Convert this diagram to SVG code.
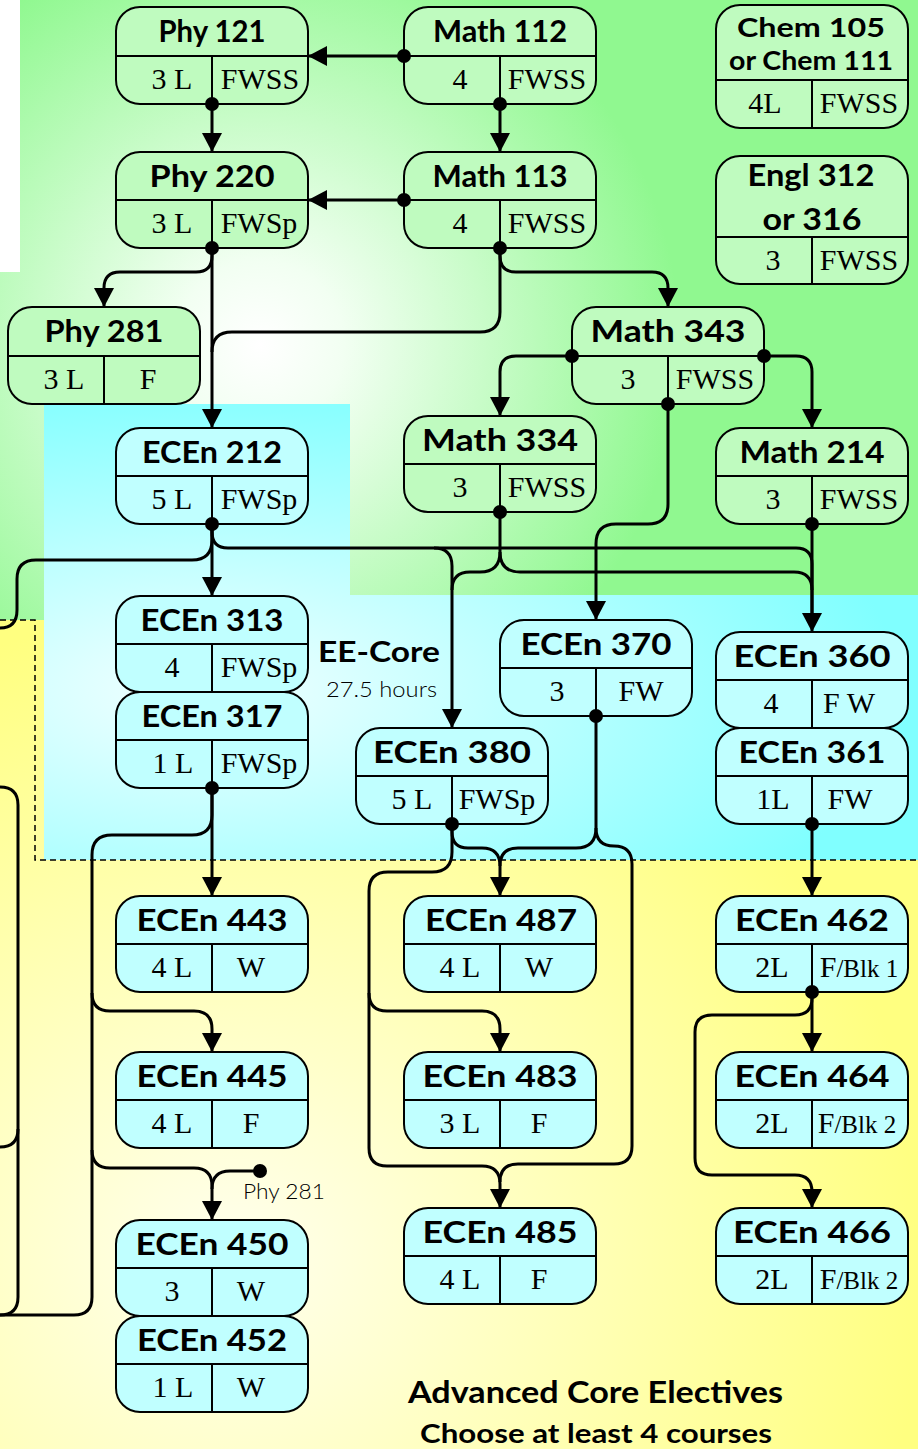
<svg xmlns="http://www.w3.org/2000/svg" width="918" height="1449" viewBox="0 0 918 1449">
<defs>
<radialGradient id="gGreen" gradientUnits="userSpaceOnUse" cx="260" cy="345" r="420">
<stop offset="0" stop-color="#ffffff"/><stop offset="0.2" stop-color="#f2fff2"/><stop offset="1" stop-color="#90f890"/>
</radialGradient>
<radialGradient id="gCyan" gradientUnits="userSpaceOnUse" cx="200" cy="690" r="700" gradientTransform="translate(200,690) scale(1,0.45) translate(-200,-690)">
<stop offset="0" stop-color="#f2ffff"/><stop offset="1" stop-color="#80ffff"/>
</radialGradient>
<radialGradient id="gYellow" gradientUnits="userSpaceOnUse" cx="230" cy="1260" r="700" gradientTransform="translate(230,1260) scale(1,0.93) translate(-230,-1260)">
<stop offset="0" stop-color="#ffffee"/><stop offset="1" stop-color="#ffff80"/>
</radialGradient>
<marker id="ah" markerUnits="userSpaceOnUse" markerWidth="20" markerHeight="20" viewBox="0 0 20 20" refX="19" refY="10" orient="auto">
<path d="M0,0 L19,10 L0,20 z" fill="#000"/>
</marker>
<style>
.node rect{stroke:#000;stroke-width:2}
.g rect{fill:#bffbbf}
.c rect{fill:#c0ffff}
.node path{fill:none;stroke:#000;stroke-width:2}
.title{font-family:Lato,"Open Sans","DejaVu Sans",sans-serif;font-weight:700;font-size:30px;text-anchor:middle;fill:#000}
.t2{font-size:27px}
.body{font-family:"Liberation Serif","Times New Roman",serif;font-size:30px;text-anchor:middle;fill:#000}
.conn path{fill:none;stroke:#000;stroke-width:3}
.arr{marker-end:url(#ah)}
.dot{fill:#000}
.lbl{font-family:Lato,"Open Sans",sans-serif;fill:#000}
</style>
</defs>

<g id="background">
<rect x="0" y="0" width="918" height="620" fill="url(#gGreen)"/>
<rect x="0" y="0" width="20" height="272" fill="#ffffff"/>
<polygon points="44,404 350,404 350,595 918,595 918,860 44,860" fill="url(#gCyan)"/>
<polygon points="0,620 44,620 44,860 918,860 918,1449 0,1449" fill="url(#gYellow)"/>
<path d="M0,620 H35 V860 H918" fill="none" stroke="#000" stroke-width="1.5" stroke-dasharray="6 4"/>
</g>

<g id="connectors" class="conn">
<path class="arr" d="M404,56 H308"/>
<path class="arr" d="M212,104 V152"/>
<path class="arr" d="M500,104 V152"/>
<path class="arr" d="M404,200 H308"/>
<path class="arr" d="M212,248 V256 Q212,272 196,272 H120 Q104,272 104,288 V307"/>
<path class="arr" d="M212,248 V428"/>
<path d="M500,248 V312 Q500,332 480,332 H232 Q212,332 212,352"/>
<path class="arr" d="M500,248 V256 Q500,272 516,272 H652 Q668,272 668,288 V307"/>
<path class="arr" d="M572,356 H516 Q500,356 500,372 V416"/>
<path class="arr" d="M764,356 H796 Q812,356 812,372 V428"/>
<path class="arr" d="M668,404 V504 Q668,524 648,524 H616 Q596,524 596,544 V620"/>
<path class="arr" d="M212,524 V596"/>
<path d="M212,524 V540 Q212,560 192,560 H36 Q17,560 17,579 V610 Q17,628 0,628"/>
<path class="arr" d="M212,524 V532 Q212,548 228,548 H796 Q812,548 812,564 V632"/>
<path class="arr" d="M434,548 Q452,548 452,566 V728"/>
<path d="M500,512 V552 Q500,572 480,572 H470 Q452,572 452,590"/>
<path d="M500,552 Q500,572 520,572 H794 Q812,572 812,590"/>
<path d="M812,524 V620"/>
<path class="arr" d="M212,788 V896"/>
<path d="M212,788 V815 Q212,835 192,835 H112 Q92,835 92,855 V1297 Q92,1315 74,1315 H0"/>
<path class="arr" d="M92,993 Q92,1011 110,1011 H194 Q212,1011 212,1029 V1052"/>
<path class="arr" d="M92,1150 Q92,1168 110,1168 H194 Q212,1168 212,1186 V1220"/>
<path d="M260,1171 H230 Q212,1171 212,1189"/>
<path d="M0,787 Q18,787 18,805 V1297 Q18,1315 0,1315"/>
<path d="M18,1129 Q18,1147 0,1147"/>
<path class="arr" d="M452,824 V832 Q452,848 468,848 H482 Q500,848 500,866 V896"/>
<path class="arr" d="M452,824 V852 Q452,872 432,872 H388 Q369,872 369,891 V1148 Q369,1166 387,1166 H482 Q500,1166 500,1184 V1208"/>
<path class="arr" d="M369,993 Q369,1011 387,1011 H482 Q500,1011 500,1029 V1052"/>
<path d="M596,716 V828 Q596,848 576,848 H518 Q500,848 500,866"/>
<path d="M596,828 Q596,846 614,846 Q632,846 632,864 V1146 Q632,1164 614,1164 H518 Q500,1164 500,1182"/>
<path class="arr" d="M812,824 V896"/>
<path class="arr" d="M812,992 V1052"/>
<path class="arr" d="M812,992 V998 Q812,1015 795,1015 H712 Q695,1015 695,1032 V1158 Q695,1175 712,1175 H795 Q812,1175 812,1192 V1208"/>
</g>

<g id="phy121" class="node g">
<rect x="116" y="7" width="192" height="97" rx="24"/>
<path d="M116,56 H308 M212,56 V104"/>
<text class="title" x="212" y="42" textLength="107" lengthAdjust="spacingAndGlyphs">Phy 121</text>
<text class="body" x="172" y="89">3 L</text><text class="body" x="260" y="89">FWSS</text>
</g>
<g id="phy220" class="node g">
<rect x="116" y="152" width="192" height="96" rx="24"/>
<path d="M116,200 H308 M212,200 V248"/>
<text class="title" x="212" y="187" textLength="125" lengthAdjust="spacingAndGlyphs">Phy 220</text>
<text class="body" x="172" y="233">3 L</text><text class="body" x="259" y="233">FWSp</text>
</g>
<g id="phy281" class="node g">
<rect x="8" y="307" width="192" height="97" rx="24"/>
<path d="M8,356 H200 M104,356 V404"/>
<text class="title" x="104" y="342" textLength="119" lengthAdjust="spacingAndGlyphs">Phy 281</text>
<text class="body" x="64" y="389">3 L</text><text class="body" x="148" y="389">F</text>
</g>
<g id="math112" class="node g">
<rect x="404" y="7" width="192" height="97" rx="24"/>
<path d="M404,56 H596 M500,56 V104"/>
<text class="title" x="500" y="42" textLength="134" lengthAdjust="spacingAndGlyphs">Math 112</text>
<text class="body" x="460" y="89">4</text><text class="body" x="547" y="89">FWSS</text>
</g>
<g id="math113" class="node g">
<rect x="404" y="152" width="192" height="96" rx="24"/>
<path d="M404,200 H596 M500,200 V248"/>
<text class="title" x="500" y="187" textLength="135" lengthAdjust="spacingAndGlyphs">Math 113</text>
<text class="body" x="460" y="233">4</text><text class="body" x="547" y="233">FWSS</text>
</g>
<g id="chem105" class="node g">
<rect x="716" y="5" width="192" height="123" rx="24"/>
<path d="M716,80 H908 M812,80 V128"/>
<text class="title t2" x="811" y="37" textLength="148" lengthAdjust="spacingAndGlyphs">Chem 105</text>
<text class="title t2" x="811" y="70" textLength="164" lengthAdjust="spacingAndGlyphs">or Chem 111</text>
<text class="body" x="765" y="113">4L</text><text class="body" x="859" y="113">FWSS</text>
</g>
<g id="engl312" class="node g">
<rect x="716" y="156" width="192" height="128" rx="24"/>
<path d="M716,237 H908 M812,237 V284"/>
<text class="title" x="811" y="186" textLength="127" lengthAdjust="spacingAndGlyphs">Engl 312</text>
<text class="title" x="812" y="230" textLength="99" lengthAdjust="spacingAndGlyphs">or 316</text>
<text class="body" x="773" y="270">3</text><text class="body" x="859" y="270">FWSS</text>
</g>
<g id="math343" class="node g">
<rect x="572" y="307" width="192" height="97" rx="24"/>
<path d="M572,356 H764 M668,356 V404"/>
<text class="title" x="668" y="342" textLength="155" lengthAdjust="spacingAndGlyphs">Math 343</text>
<text class="body" x="628" y="389">3</text><text class="body" x="715" y="389">FWSS</text>
</g>
<g id="math334" class="node g">
<rect x="404" y="416" width="192" height="96" rx="24"/>
<path d="M404,464 H596 M500,464 V512"/>
<text class="title" x="500" y="451" textLength="156" lengthAdjust="spacingAndGlyphs">Math 334</text>
<text class="body" x="460" y="497">3</text><text class="body" x="547" y="497">FWSS</text>
</g>
<g id="math214" class="node g">
<rect x="716" y="428" width="192" height="96" rx="24"/>
<path d="M716,476 H908 M812,476 V524"/>
<text class="title" x="812" y="463" textLength="145" lengthAdjust="spacingAndGlyphs">Math 214</text>
<text class="body" x="773" y="509">3</text><text class="body" x="859" y="509">FWSS</text>
</g>
<g id="ecen212" class="node c">
<rect x="116" y="428" width="192" height="96" rx="24"/>
<path d="M116,476 H308 M212,476 V524"/>
<text class="title" x="212" y="463" textLength="140" lengthAdjust="spacingAndGlyphs">ECEn 212</text>
<text class="body" x="172" y="509">5 L</text><text class="body" x="259" y="509">FWSp</text>
</g>
<g id="ecen313" class="node c">
<rect x="116" y="596" width="192" height="96" rx="24"/>
<path d="M116,644 H308 M212,644 V692"/>
<text class="title" x="212" y="631" textLength="143" lengthAdjust="spacingAndGlyphs">ECEn 313</text>
<text class="body" x="172" y="677">4</text><text class="body" x="259" y="677">FWSp</text>
</g>
<g id="ecen317" class="node c">
<rect x="116" y="692" width="192" height="96" rx="24"/>
<path d="M116,740 H308 M212,740 V788"/>
<text class="title" x="212" y="727" textLength="141" lengthAdjust="spacingAndGlyphs">ECEn 317</text>
<text class="body" x="173" y="773">1 L</text><text class="body" x="259" y="773">FWSp</text>
</g>
<g id="ecen370" class="node c">
<rect x="500" y="620" width="192" height="96" rx="24"/>
<path d="M500,668 H692 M596,668 V716"/>
<text class="title" x="596" y="655" textLength="151" lengthAdjust="spacingAndGlyphs">ECEn 370</text>
<text class="body" x="557" y="701">3</text><text class="body" x="641" y="701">FW</text>
</g>
<g id="ecen360" class="node c">
<rect x="716" y="632" width="192" height="96" rx="24"/>
<path d="M716,680 H908 M812,680 V728"/>
<text class="title" x="812" y="667" textLength="157" lengthAdjust="spacingAndGlyphs">ECEn 360</text>
<text class="body" x="771" y="713">4</text><text class="body" x="849" y="713">F W</text>
</g>
<g id="ecen361" class="node c">
<rect x="716" y="728" width="192" height="96" rx="24"/>
<path d="M716,776 H908 M812,776 V824"/>
<text class="title" x="812" y="763" textLength="147" lengthAdjust="spacingAndGlyphs">ECEn 361</text>
<text class="body" x="773" y="809">1L</text><text class="body" x="850" y="809">FW</text>
</g>
<g id="ecen380" class="node c">
<rect x="356" y="728" width="192" height="96" rx="24"/>
<path d="M356,776 H548 M452,776 V824"/>
<text class="title" x="452" y="763" textLength="158" lengthAdjust="spacingAndGlyphs">ECEn 380</text>
<text class="body" x="412" y="809">5 L</text><text class="body" x="497" y="809">FWSp</text>
</g>
<g id="ecen443" class="node c">
<rect x="116" y="896" width="192" height="96" rx="24"/>
<path d="M116,944 H308 M212,944 V992"/>
<text class="title" x="212" y="931" textLength="151" lengthAdjust="spacingAndGlyphs">ECEn 443</text>
<text class="body" x="172" y="977">4 L</text><text class="body" x="251" y="977">W</text>
</g>
<g id="ecen445" class="node c">
<rect x="116" y="1052" width="192" height="96" rx="24"/>
<path d="M116,1100 H308 M212,1100 V1148"/>
<text class="title" x="212" y="1087" textLength="151" lengthAdjust="spacingAndGlyphs">ECEn 445</text>
<text class="body" x="172" y="1133">4 L</text><text class="body" x="251" y="1133">F</text>
</g>
<g id="ecen450" class="node c">
<rect x="116" y="1220" width="192" height="96" rx="24"/>
<path d="M116,1268 H308 M212,1268 V1316"/>
<text class="title" x="212" y="1255" textLength="153" lengthAdjust="spacingAndGlyphs">ECEn 450</text>
<text class="body" x="172" y="1301">3</text><text class="body" x="251" y="1301">W</text>
</g>
<g id="ecen452" class="node c">
<rect x="116" y="1316" width="192" height="96" rx="24"/>
<path d="M116,1364 H308 M212,1364 V1412"/>
<text class="title" x="212" y="1351" textLength="150" lengthAdjust="spacingAndGlyphs">ECEn 452</text>
<text class="body" x="173" y="1397">1 L</text><text class="body" x="251" y="1397">W</text>
</g>
<g id="ecen487" class="node c">
<rect x="404" y="896" width="192" height="96" rx="24"/>
<path d="M404,944 H596 M500,944 V992"/>
<text class="title" x="501" y="931" textLength="152" lengthAdjust="spacingAndGlyphs">ECEn 487</text>
<text class="body" x="460" y="977">4 L</text><text class="body" x="539" y="977">W</text>
</g>
<g id="ecen483" class="node c">
<rect x="404" y="1052" width="192" height="96" rx="24"/>
<path d="M404,1100 H596 M500,1100 V1148"/>
<text class="title" x="500" y="1087" textLength="155" lengthAdjust="spacingAndGlyphs">ECEn 483</text>
<text class="body" x="460" y="1133">3 L</text><text class="body" x="539" y="1133">F</text>
</g>
<g id="ecen485" class="node c">
<rect x="404" y="1208" width="192" height="96" rx="24"/>
<path d="M404,1256 H596 M500,1256 V1304"/>
<text class="title" x="500" y="1243" textLength="155" lengthAdjust="spacingAndGlyphs">ECEn 485</text>
<text class="body" x="460" y="1289">4 L</text><text class="body" x="539" y="1289">F</text>
</g>
<g id="ecen462" class="node c">
<rect x="716" y="896" width="192" height="96" rx="24"/>
<path d="M716,944 H908 M812,944 V992"/>
<text class="title" x="812" y="931" textLength="154" lengthAdjust="spacingAndGlyphs">ECEn 462</text>
<text class="body" x="772" y="977">2L</text><text class="body" x="859" y="977">F<tspan font-size="25">/Blk 1</tspan></text>
</g>
<g id="ecen464" class="node c">
<rect x="716" y="1052" width="192" height="96" rx="24"/>
<path d="M716,1100 H908 M812,1100 V1148"/>
<text class="title" x="812" y="1087" textLength="155" lengthAdjust="spacingAndGlyphs">ECEn 464</text>
<text class="body" x="772" y="1133">2L</text><text class="body" x="857" y="1133">F<tspan font-size="25">/Blk 2</tspan></text>
</g>
<g id="ecen466" class="node c">
<rect x="716" y="1208" width="192" height="96" rx="24"/>
<path d="M716,1256 H908 M812,1256 V1304"/>
<text class="title" x="812" y="1243" textLength="158" lengthAdjust="spacingAndGlyphs">ECEn 466</text>
<text class="body" x="772" y="1289">2L</text><text class="body" x="859" y="1289">F<tspan font-size="25">/Blk 2</tspan></text>
</g>

<g id="dots">
<circle class="dot" cx="404" cy="56" r="7"/>
<circle class="dot" cx="500" cy="104" r="7"/>
<circle class="dot" cx="212" cy="104" r="7"/>
<circle class="dot" cx="404" cy="200" r="7"/>
<circle class="dot" cx="500" cy="248" r="7"/>
<circle class="dot" cx="212" cy="248" r="7"/>
<circle class="dot" cx="572" cy="356" r="7"/>
<circle class="dot" cx="764" cy="356" r="7"/>
<circle class="dot" cx="668" cy="404" r="7"/>
<circle class="dot" cx="500" cy="512" r="7"/>
<circle class="dot" cx="812" cy="524" r="7"/>
<circle class="dot" cx="212" cy="524" r="7"/>
<circle class="dot" cx="212" cy="788" r="7"/>
<circle class="dot" cx="596" cy="716" r="7"/>
<circle class="dot" cx="452" cy="824" r="7"/>
<circle class="dot" cx="812" cy="824" r="7"/>
<circle class="dot" cx="812" cy="992" r="7"/>
<circle class="dot" cx="260" cy="1171" r="7"/>
</g>

<g id="labels">
<text class="lbl" x="318" y="662" font-size="29" font-weight="700" textLength="122" lengthAdjust="spacingAndGlyphs">EE-Core</text>
<text class="lbl" x="326" y="697" font-size="22" font-weight="300" fill="#222" textLength="111" lengthAdjust="spacingAndGlyphs">27.5 hours</text>
<text class="lbl" x="243" y="1199" font-size="21" font-weight="300" fill="#222" textLength="82" lengthAdjust="spacingAndGlyphs">Phy 281</text>
<text class="lbl" x="408" y="1403" font-size="31" font-weight="700" textLength="375" lengthAdjust="spacingAndGlyphs">Advanced Core Electives</text>
<text class="lbl" x="420" y="1443" font-size="27" font-weight="700" textLength="352" lengthAdjust="spacingAndGlyphs">Choose at least 4 courses</text>
</g>
</svg>
